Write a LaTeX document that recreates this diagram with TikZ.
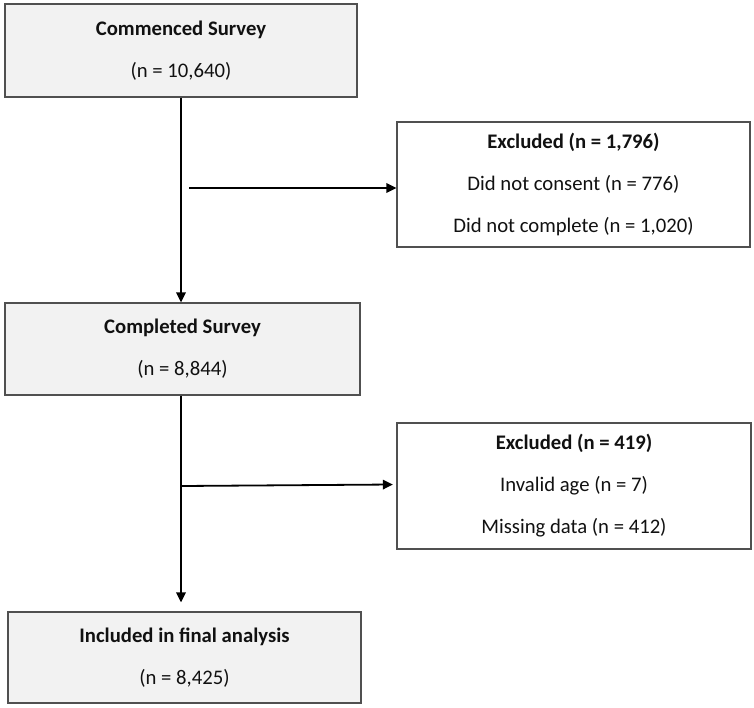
\documentclass[tikz,border=0pt]{standalone}
\usepackage{fontspec}
\setmainfont{Carlito}
\usetikzlibrary{arrows.meta}
\definecolor{boxfill}{HTML}{F2F2F2}
\definecolor{boxline}{HTML}{505050}
\definecolor{txt}{HTML}{111111}
\begin{document}
\begin{tikzpicture}[x=1pt,y=-1pt,
  flowbox/.style={draw=boxline, line width=1.3pt, rectangle, inner sep=0pt,
    align=center, text=txt, font=\fontsize{20.7}{42}\selectfont},
  mainbox/.style={flowbox, fill=boxfill},
  exclbox/.style={flowbox, fill=white},
  arr/.style={line width=1.8pt, draw=black, -{Triangle[length=10pt,width=9.5pt]}}]
\useasboundingbox (0,0) rectangle (754,708);
\node[mainbox, minimum width=352pt, minimum height=93pt] (b1) at (181,50.5)
  {\textbf{Commenced Survey}\\(n = 10,640)};
\node[mainbox, minimum width=355pt, minimum height=92pt] (b2) at (182.5,349)
  {\textbf{Completed Survey}\\(n = 8,844)};
\node[mainbox, minimum width=353pt, minimum height=91pt] (b3) at (184.5,657.5)
  {\textbf{Included in final analysis}\\(n = 8,425)};
\node[exclbox, minimum width=353pt, minimum height=125pt] (e1) at (573.5,184.5)
  {\textbf{Excluded (n = 1,796)}\\Did not consent (n = 776)\\Did not complete (n = 1,020)};
\node[exclbox, minimum width=354pt, minimum height=126pt] (e2) at (574,486)
  {\textbf{Excluded (n = 419)}\\Invalid age (n = 7)\\Missing data (n = 412)};
\coordinate (s1) at (189,188);
\coordinate (s2) at (182,486);
\coordinate (v2) at (181,395);
\draw[arr] (b1.south) -- (b1.south |- b2.north);
\draw[arr] (s1) -- (s1 -| e1.west);
\draw[arr] (v2 |- b2.south) -- ([yshift=9pt]v2 |- b3.north);
\draw[arr] (s2) -- ([xshift=-3.5pt,yshift=1.5pt]e2.west);
\end{tikzpicture}
\end{document}
